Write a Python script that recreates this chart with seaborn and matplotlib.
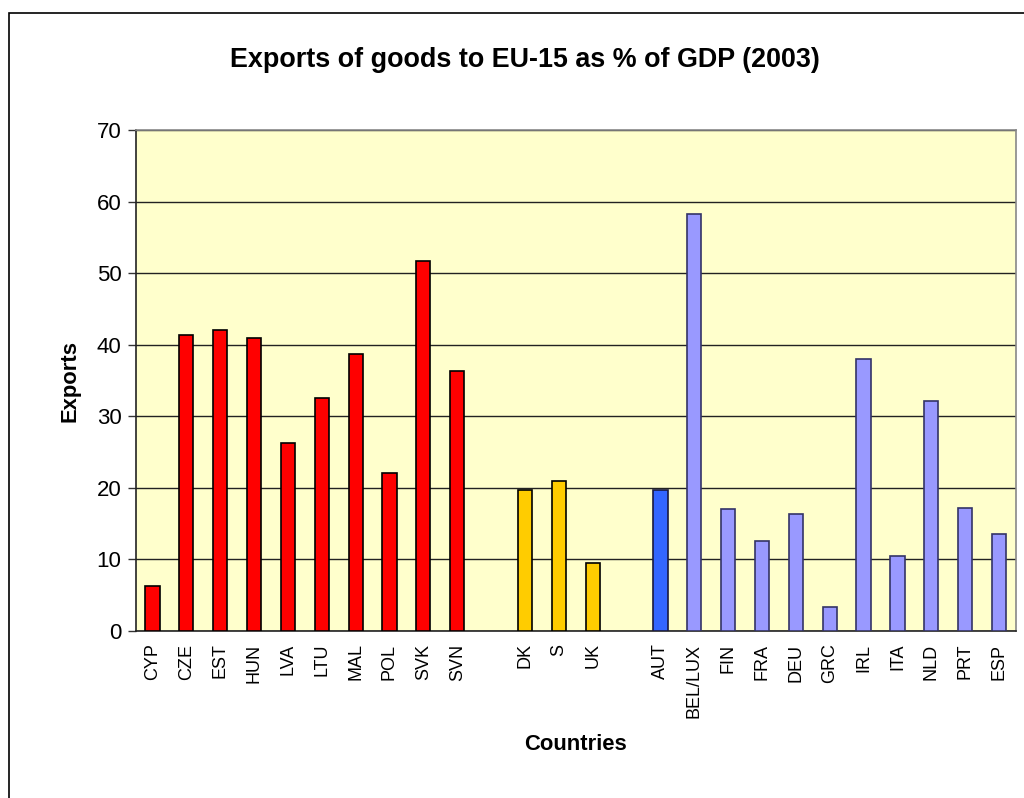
import matplotlib
matplotlib.use("Agg")
import matplotlib.pyplot as plt
import seaborn as sns
import pandas as pd
import numpy as np
from matplotlib.patches import Rectangle

# ------------------------------------------------------
# Data
# ------------------------------------------------------
new_members = ["CYP", "CZE", "EST", "HUN", "LVA", "LTU", "MAL", "POL", "SVK", "SVN"]
new_values = [6.3, 41.4, 42.0, 40.9, 26.3, 32.5, 38.7, 22.1, 51.7, 36.3]

outside_euro = ["DK", "S", "UK"]
outside_values = [19.7, 21.0, 9.5]

euro_area = ["AUT", "BEL/LUX", "FIN", "FRA", "DEU", "GRC", "IRL", "ITA", "NLD", "PRT", "ESP"]
euro_values = [19.7, 58.2, 17.0, 12.6, 16.4, 3.3, 38.0, 10.5, 32.1, 17.2, 13.5]

colors = {"new": "#FF0000", "outside": "#FFCC00", "AUT": "#3366FF", "euro": "#9999FF"}
edges = {"new": "black", "outside": "black", "AUT": "#1a1a40", "euro": "#333366"}

# ------------------------------------------------------
# Build table with one empty slot between groups
# ------------------------------------------------------
rows = []
for c, v in zip(new_members, new_values):
    rows.append((c, v, "new"))
rows.append((" ", np.nan, "gap"))
for c, v in zip(outside_euro, outside_values):
    rows.append((c, v, "outside"))
rows.append(("  ", np.nan, "gap"))
for c, v in zip(euro_area, euro_values):
    rows.append((c, v, "AUT" if c == "AUT" else "euro"))
df = pd.DataFrame(rows, columns=["Country", "Exports", "Group"])
order = list(df["Country"])

palette = {r.Country: colors.get(r.Group, "white") for r in df.itertuples()}

# ------------------------------------------------------
# Figure
# ------------------------------------------------------
sns.set_style("white")
plt.rcParams["font.family"] = ["Liberation Sans", "DejaVu Sans"]
plt.rcParams["text.color"] = "black"
plt.rcParams["axes.labelcolor"] = "black"
plt.rcParams["xtick.color"] = "black"
plt.rcParams["ytick.color"] = "black"

fig = plt.figure(figsize=(10.24, 7.98), dpi=100)
ax = fig.add_axes([135.5 / 1024, 1 - 631 / 798, (1016 - 135.5) / 1024, (631 - 130) / 798])
ax.set_facecolor("#FFFFCC")

sns.barplot(data=df, x="Country", y="Exports", hue="Country", order=order,
            palette=palette, width=0.42, legend=False, saturation=1,
            linewidth=1.2, edgecolor="black", ax=ax)

# edge colours per group
for patch in ax.patches:
    xc = patch.get_x() + patch.get_width() / 2
    g = df["Group"].iloc[int(round(xc))]
    if g in edges:
        patch.set_edgecolor(edges[g])
    patch.set_zorder(3)

ax.set_ylim(0, 70)
ax.set_xlim(-0.5, len(order) - 0.5)
ax.set_yticks(range(0, 71, 10))
ax.yaxis.grid(True, color="#222222", linewidth=1.0)
ax.set_axisbelow(True)

ax.set_xticks(range(len(order)))
ax.set_xticklabels([t.strip() for t in order], rotation=90, fontsize=13)
ax.set_xticks(np.arange(-0.5, len(order), 1), minor=True)
ax.tick_params(axis="x", which="major", length=0, pad=9)
ax.tick_params(axis="x", which="minor", length=5, width=1, color="#333333", direction="out")
ax.tick_params(axis="y", length=6, width=1, color="#333333", direction="out", labelsize=16, pad=4)
ax.tick_params(axis="both", bottom=True, left=True)

for s in ["left", "bottom"]:
    ax.spines[s].set_color("#222222")
    ax.spines[s].set_linewidth(1.2)
for s in ["top", "right"]:
    ax.spines[s].set_color("#888888")
    ax.spines[s].set_linewidth(1.2)

ax.set_xlabel("Countries", fontsize=15.8, fontweight="bold", labelpad=12)
ax.set_ylabel("Exports", fontsize=15.8, fontweight="bold", labelpad=12)

fig.text(0.513, 1 - 60 / 798, "Exports of goods to EU-15 as % of GDP (2003)",
         ha="center", va="center", fontsize=19.4, fontweight="bold")

# outer chart frame (left & top visible)
fig.add_artist(Rectangle((9 / 1024, -0.1), 1.2, 1 - 13 / 798 + 0.1,
                         transform=fig.transFigure, fill=False,
                         edgecolor="black", linewidth=1.2))

fig.savefig("out.png", dpi=100, facecolor="white")
